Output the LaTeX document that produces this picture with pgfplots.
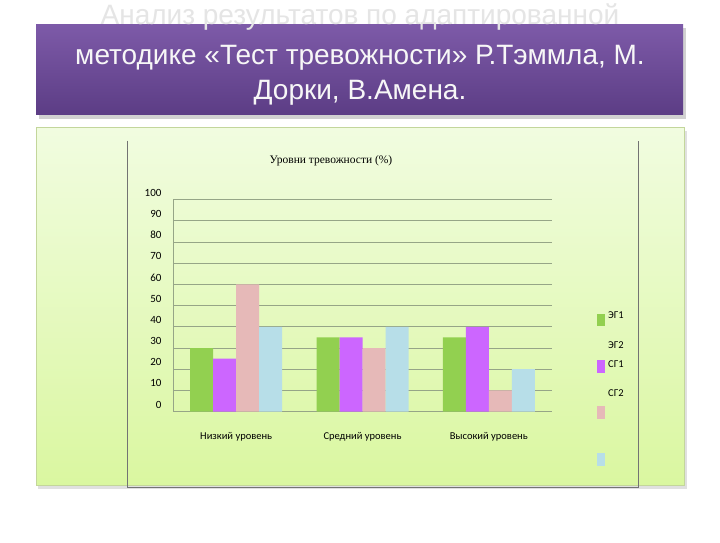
\documentclass[border=0pt]{standalone}
\usepackage{pgfplots}
\pgfplotsset{compat=1.18}
\usepackage{fontspec}
\setmainfont{Liberation Sans}
\newfontfamily\carlito{Carlito}
\newfontfamily\serifru{Liberation Serif}
\definecolor{cEG1}{RGB}{146,208,80}
\definecolor{cEG2}{RGB}{204,102,255}
\definecolor{cSG1}{RGB}{230,185,184}
\definecolor{cSG2}{RGB}{183,222,232}
\definecolor{gridc}{RGB}{150,165,135}
\definecolor{purpT}{RGB}{125,90,168}
\definecolor{purpB}{RGB}{92,61,133}
\definecolor{grnT}{RGB}{241,252,224}
\definecolor{grnB}{RGB}{218,247,160}
\definecolor{grnBorder}{RGB}{195,214,155}
\pgfplotstableread{
x EGa EGb SGa SGb
0 30 25 60 40
1 35 35 30 40
2 35 40 10 20
}\datatable
\begin{document}
\begin{tikzpicture}[x=1pt,y=1pt]
\fill[white] (0,0) rectangle (720,540);
% banner
\fill[black!18] (39,424) rectangle (686,515);
\shade[top color=purpT, bottom color=purpB] (36,428) rectangle (683,518);
% green box
\fill[black!12] (38,54) rectangle (687,412);
\shade[top color=grnT, bottom color=grnB, draw=grnBorder, line width=1pt] (36,57) rectangle (684,415);
% inner chart frame
\draw[black!55, line width=0.6pt] (127,402) -- (127,55) -- (638,55) -- (638,402);
% title
\node[text=white!90!black, font=\fontsize{28}{34}\selectfont, align=center] at (360,526) {Анализ результатов по адаптированной};
\node[text=white!97!black, font=\fontsize{28}{34}\selectfont, align=center] at (360,485) {методике «Тест тревожности» Р.Тэммла, М.};
\node[text=white!97!black, font=\fontsize{28}{34}\selectfont, align=center] at (360,450) {Дорки, В.Амена.};
% chart title
\node[font=\serifru\fontsize{11.5}{13}\selectfont] at (331,382) {Уровни тревожности (\%)};
\begin{axis}[
  at={(173pt,131pt)}, anchor=south west,
  scale only axis, width=379pt, height=212pt,
  ybar=0pt, bar width=23pt,
  xmin=-0.5, xmax=2.5, ymin=0, ymax=100,
  xtick={0,1,2},
  xticklabels={Низкий уровень, Средний уровень, Высокий уровень},
  ytick={0,10,...,100},
  ymajorgrids,
  grid style={color=gridc, line width=0.9pt},
  axis x line*=bottom, axis y line*=left,
  axis line style={color=gridc, line width=0.9pt, -},
  major tick length=0pt,
  tick label style={font=\carlito\fontsize{10.5}{12}\selectfont},
  yticklabel style={font=\carlito\fontsize{11}{12}\selectfont, yshift=7pt, xshift=-8pt},
  xticklabel style={yshift=-17pt},
  /pgf/number format/assume math mode=true,
  clip=false,
]
\addplot[fill=cEG1, draw=none] table[x=x, y=EGa] {\datatable};
\addplot[fill=cEG2, draw=none] table[x=x, y=EGb] {\datatable};
\addplot[fill=cSG1, draw=none] table[x=x, y=SGa] {\datatable};
\addplot[fill=cSG2, draw=none] table[x=x, y=SGb] {\datatable};
\end{axis}
% legend
\fill[cEG1] (597,217) rectangle (605,229);
\fill[cEG2] (597,170) rectangle (605,183);
\fill[cSG1] (597,124) rectangle (605,137);
\fill[cSG2] (597,77) rectangle (605,90);
\begin{scope}[font=\carlito\fontsize{10.5}{12}\selectfont]
\node[anchor=west, inner sep=0pt] at (608,227) {ЭГ1};
\node[anchor=west, inner sep=0pt] at (608,197) {ЭГ2};
\node[anchor=west, inner sep=0pt] at (608,178) {СГ1};
\node[anchor=west, inner sep=0pt] at (608,149) {СГ2};
\end{scope}
\end{tikzpicture}
\end{document}
